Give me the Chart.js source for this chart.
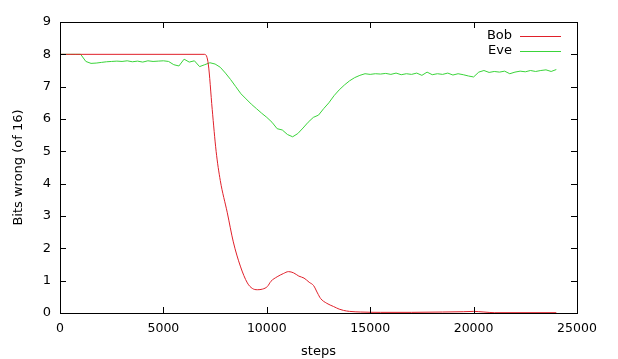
<!DOCTYPE html>
<html lang="en">
<head>
    <meta charset="UTF-8">
    <title>Bits wrong</title>
    <script src="https://cdn.jsdelivr.net/npm/chart.js"></script>
    <style>
        * { margin: 0; padding: 0; box-sizing: border-box; }
        body { background: #fff; width: 618px; height: 359px; overflow: hidden; }
        .chart-container { position: relative; width: 618px; height: 359px; }
    </style>
</head>
<body>
    <div class="chart-container">
        <canvas id="bitsChart"></canvas>
    </div>

    <script>
        const xTicks = [0, 5000, 10000, 15000, 20000, 25000];
        const yTicks = [0, 1, 2, 3, 4, 5, 6, 7, 8, 9];

        const bobSteps = [0, 7000, 7170, 7360, 7550, 7750, 8090, 8380, 8720, 9060, 9300, 9540, 9800, 10030,
            10200, 10500, 10800, 11050, 11300, 11550, 11800, 12050, 12260, 12450, 12600, 12900, 13230,
            13500, 13710, 14000, 14540, 15500, 17000, 18500, 19500, 20000, 20500, 21000, 24000];
        const bobBits = [8.0, 8.0, 7.7, 6.3, 5.0, 4.1, 3.1, 2.2, 1.45, 0.93, 0.76, 0.72, 0.74, 0.82,
            0.98, 1.12, 1.22, 1.28, 1.24, 1.14, 1.08, 0.95, 0.85, 0.62, 0.45, 0.3, 0.2,
            0.12, 0.08, 0.05, 0.03, 0.02, 0.02, 0.03, 0.04, 0.05, 0.03, 0.01, 0.01];

        // eve sampled every 250 steps, 0..24000
        const eveStep = 250;
        const eveBits = [8.0, 8.0, 8.0, 8.0, 8.0, 7.78, 7.72, 7.73, 7.75, 7.77,
            7.78, 7.79, 7.78, 7.8, 7.77, 7.79, 7.76, 7.8, 7.78, 7.79,
            7.8, 7.78, 7.68, 7.64, 7.85, 7.76, 7.8, 7.62, 7.68, 7.74,
            7.7, 7.6, 7.42, 7.22, 7.0, 6.78, 6.62, 6.46, 6.32, 6.18,
            6.05, 5.9, 5.7, 5.66, 5.52, 5.45, 5.55, 5.72, 5.9, 6.05,
            6.12, 6.32, 6.5, 6.72, 6.9, 7.05, 7.18, 7.28, 7.35, 7.4,
            7.38, 7.4, 7.39, 7.41, 7.38, 7.42, 7.37, 7.4, 7.38, 7.42,
            7.35, 7.45, 7.37, 7.4, 7.38, 7.42, 7.36, 7.4, 7.37, 7.33,
            7.3, 7.45, 7.5, 7.44, 7.47, 7.45, 7.48, 7.4, 7.45, 7.48,
            7.46, 7.5, 7.47, 7.5, 7.52, 7.47, 7.53];

        const FONT = 'DejaVu Sans';

        // gnuplot-like frame with inward ticks on all four sides, plus key
        const framePlugin = {
            id: 'frame',
            afterDraw(chart) {
                const { ctx, chartArea: a, scales } = chart;
                ctx.save();
                ctx.strokeStyle = '#000';
                ctx.lineWidth = 1;
                ctx.strokeRect(a.left + 0.5, a.top + 0.5, a.right - a.left, a.bottom - a.top);
                ctx.beginPath();
                xTicks.forEach(v => {
                    const px = Math.round(scales.x.getPixelForValue(v)) + 0.5;
                    ctx.moveTo(px, a.bottom); ctx.lineTo(px, a.bottom - 6);
                    ctx.moveTo(px, a.top); ctx.lineTo(px, a.top + 6);
                });
                yTicks.forEach(v => {
                    const py = Math.round(scales.y.getPixelForValue(v)) + 0.5;
                    ctx.moveTo(a.left, py); ctx.lineTo(a.left + 6, py);
                    ctx.moveTo(a.right, py); ctx.lineTo(a.right - 6, py);
                });
                ctx.stroke();

                // key
                ctx.font = '13px ' + FONT;
                ctx.textAlign = 'right';
                ctx.textBaseline = 'middle';
                chart.data.datasets.forEach((ds, i) => {
                    const y = a.top + 14 + i * 15;
                    ctx.fillStyle = '#000';
                    ctx.fillText(ds.label, a.right - 65, y);
                    ctx.strokeStyle = ds.borderColor;
                    ctx.beginPath();
                    ctx.moveTo(a.right - 57, y + 0.5);
                    ctx.lineTo(a.right - 16, y + 0.5);
                    ctx.stroke();
                });
                ctx.restore();
            }
        };

        const ctx = document.getElementById('bitsChart').getContext('2d');
        new Chart(ctx, {
            type: 'line',
            data: {
                datasets: [{
                    label: 'Bob',
                    data: bobSteps.map((s, i) => ({ x: s, y: bobBits[i] })),
                    borderColor: '#e0202a',
                    borderWidth: 1,
                    pointRadius: 0,
                    cubicInterpolationMode: 'monotone',
                    fill: false
                }, {
                    label: 'Eve',
                    data: eveBits.map((v, i) => ({ x: i * eveStep, y: v })),
                    borderColor: '#3ad43a',
                    borderWidth: 1,
                    pointRadius: 0,
                    tension: 0,
                    fill: false
                }]
            },
            options: {
                responsive: true,
                maintainAspectRatio: false,
                animation: false,
                layout: { padding: { left: 0, right: 41, top: 22, bottom: 0 } },
                plugins: {
                    legend: { display: false },
                    tooltip: { enabled: false }
                },
                scales: {
                    x: {
                        type: 'linear',
                        min: 0,
                        max: 25000,
                        afterBuildTicks: s => { s.ticks = xTicks.map(v => ({ value: v })); },
                        afterFit: s => { s.height = 46; },
                        grid: { display: false, drawTicks: false },
                        border: { display: false },
                        ticks: {
                            color: '#000',
                            padding: 8,
                            maxRotation: 0,
                            font: { family: FONT, size: 12.5 },
                            callback: v => String(v)
                        },
                        title: {
                            display: true,
                            text: 'steps',
                            color: '#000',
                            padding: { top: 6, bottom: 0 },
                            font: { family: FONT, size: 13 }
                        }
                    },
                    y: {
                        min: 0,
                        max: 9,
                        afterBuildTicks: s => { s.ticks = yTicks.map(v => ({ value: v })); },
                        afterFit: s => { s.width = 60; },
                        grid: { display: false, drawTicks: false },
                        border: { display: false },
                        ticks: {
                            color: '#000',
                            padding: 9,
                            font: { family: FONT, size: 13 }
                        },
                        title: {
                            display: true,
                            text: 'Bits wrong (of 16)',
                            color: '#000',
                            padding: { top: 11, bottom: 0 },
                            font: { family: FONT, size: 13 }
                        }
                    }
                }
            },
            plugins: [framePlugin]
        });
    </script>
</body>
</html>
